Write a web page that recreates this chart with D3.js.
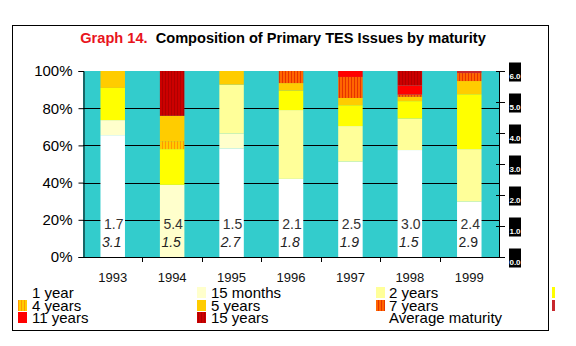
<!DOCTYPE html>
<html>
<head>
<meta charset="utf-8">
<script src="https://cdn.jsdelivr.net/npm/d3@7"></script>
<style>
  html, body { margin: 0; padding: 0; background: #fff; }
  svg { display: block; font-family: Arial, "Liberation Sans", sans-serif; }
</style>
</head>
<body>
<svg id="chart" width="576" height="346"></svg>
<script>
// Composition of primary TES issues by maturity (% of issues per year)
const categories = ['1993', '1994', '1995', '1996', '1997', '1998', '1999'];
const oneYear = [65.5, 0, 58.4, 42.0, 51.3, 57.5, 29.8];
const fifteenMonths = [8.1, 38.8, 8.0, 0, 0, 0, 0];
const twoYears = [0, 0, 26.3, 37.0, 19.1, 17.0, 28.2];
const threeYears = [17.3, 19.2, 0, 10.5, 11.2, 9.3, 29.5];
const fourYears = [0, 4.3, 0, 0, 0, 0, 0];
const fiveYears = [9.1, 13.6, 7.3, 4.0, 3.9, 2.3, 7.1];
const sevenYears = [0, 0, 0, 6.5, 11.3, 1.2, 4.3];
const tenYears = [0, 0, 0, 0, 0, 0, 1.1];
const elevenYears = [0, 0, 0, 0, 3.2, 5.0, 0];
const fifteenYears = [0, 24.1, 0, 0, 0, 7.7, 0];
// average maturity labels (years) and the second label row
const avgMaturity = [1.7, 5.4, 1.5, 2.1, 2.5, 3.0, 2.4];
const secondLabels = [3.1, 1.5, 2.7, 1.8, 1.9, 1.5, 2.9];
const leftTicks = [0, 20, 40, 60, 80, 100];
const rightTicks = [0, 1, 2, 3, 4, 5, 6];

const series = [
  { key: 'oneYear', label: '1 year', values: oneYear, color: '#ffffff' },
  { key: 'fifteenMonths', label: '15 months', values: fifteenMonths, color: '#ffffcc' },
  { key: 'twoYears', label: '2 years', values: twoYears, color: '#ffff99' },
  { key: 'threeYears', label: '3 years', values: threeYears, color: '#ffff00' },
  { key: 'fourYears', label: '4 years', values: fourYears, color: 'url(#stripe4)' },
  { key: 'fiveYears', label: '5 years', values: fiveYears, color: '#ffcc00' },
  { key: 'sevenYears', label: '7 years', values: sevenYears, color: 'url(#stripe7)' },
  { key: 'tenYears', label: '10 years', values: tenYears, color: '#c8282d' },
  { key: 'elevenYears', label: '11 years', values: elevenYears, color: '#ff0000' },
  { key: 'fifteenYears', label: '15 years', values: fifteenYears, color: 'url(#stripe15)' }
];

const svg = d3.select('#chart');
const plot = { left: 83, right: 499, top: 71, bottom: 257 };

// stripe patterns
const defs = svg.append('defs');
function stripe(id, base, line) {
  const p = defs.append('pattern').attr('id', id)
    .attr('patternUnits', 'userSpaceOnUse').attr('width', 3).attr('height', 4);
  p.append('rect').attr('width', 3).attr('height', 4).attr('fill', base);
  p.append('rect').attr('width', 1).attr('height', 4).attr('fill', line);
}
stripe('stripe4', '#ffcc00', '#ff9900');
stripe('stripe7', '#ff6600', '#e63300');
stripe('stripe15', '#cc0000', '#b00000');

// frame
svg.append('rect').attr('x', 12.5).attr('y', 25.5).attr('width', 536).attr('height', 305)
  .attr('fill', 'none').attr('stroke', '#000').attr('stroke-width', 1);

// title
const title = svg.append('text').attr('x', 283).attr('y', 43).attr('text-anchor', 'middle')
  .style('font-size', '14.6px').style('font-weight', 'bold');
title.append('tspan').attr('fill', '#e8141c').text('Graph 14.');
title.append('tspan').attr('fill', '#000').text('\u00a0 Composition of Primary TES Issues by maturity');

const x = d3.scaleBand().domain(categories).range([plot.left, plot.right])
  .paddingInner(0.588).paddingOuter(0.294);
const y = d3.scaleLinear().domain([0, 100]).range([plot.bottom, plot.top]);
const yRight = d3.scaleLinear().domain([0, 6]).range([plot.bottom, plot.top]);

// plot background
svg.append('rect').attr('x', plot.left).attr('y', plot.top)
  .attr('width', plot.right - plot.left).attr('height', plot.bottom - plot.top)
  .attr('fill', '#33cccc');

// gridlines
svg.append('g').selectAll('line').data(leftTicks.filter(t => t > 0 && t < 100)).join('line')
  .attr('x1', plot.left).attr('x2', plot.right)
  .attr('y1', d => Math.round(y(d)) + 0.5).attr('y2', d => Math.round(y(d)) + 0.5)
  .attr('stroke', '#000').attr('stroke-width', 1);

// stacked bars
const table = categories.map((c, i) => {
  const row = { year: c };
  series.forEach(s => { row[s.key] = s.values[i]; });
  return row;
});
const stacked = d3.stack().keys(series.map(s => s.key))(table);
svg.append('g').selectAll('g').data(stacked).join('g')
  .attr('fill', (d, i) => series[i].color)
  .selectAll('rect').data(d => d.filter(v => v[1] - v[0] > 0)).join('rect')
  .attr('x', d => x(d.data.year))
  .attr('width', x.bandwidth())
  .attr('y', d => y(d[1]))
  .attr('height', d => y(d[0]) - y(d[1]));

// left axis
const leftAxis = d3.axisLeft(y).tickValues(leftTicks).tickSize(5).tickPadding(6)
  .tickFormat(d => d + '%');
const gl = svg.append('g').attr('transform', `translate(${plot.left + 0.5},0)`).call(leftAxis);
gl.select('.domain').attr('stroke', '#000');
gl.selectAll('text').style('font-size', '15px').attr('fill', '#000')
  .style('font-family', 'Arial, "Liberation Sans", sans-serif');

// bottom axis
svg.append('line').attr('x1', plot.left).attr('x2', plot.right)
  .attr('y1', plot.bottom + 0.5).attr('y2', plot.bottom + 0.5).attr('stroke', '#000');
const step = x.step();
const gapX = d => Math.round(x(d) + x.bandwidth() + (step - x.bandwidth()) / 2) + 0.5;
svg.append('g').selectAll('line').data(categories.slice(0, -1)).join('line')
  .attr('x1', gapX).attr('x2', gapX)
  .attr('y1', plot.bottom).attr('y2', plot.bottom + 5).attr('stroke', '#000');
svg.append('g').selectAll('text').data(categories).join('text')
  .attr('x', d => x(d) + x.bandwidth() / 2).attr('y', 282)
  .attr('text-anchor', 'middle').style('font-size', '13px').attr('fill', '#111')
  .text(d => d);

// right axis
svg.append('line').attr('x1', plot.right + 0.5).attr('x2', plot.right + 0.5)
  .attr('y1', plot.top).attr('y2', plot.bottom).attr('stroke', '#000');
const gr = svg.append('g').selectAll('g').data(rightTicks).join('g')
  .attr('transform', d => `translate(0,${Math.round(yRight(d)) + 0.5})`);
gr.append('line').attr('x1', plot.right - 3).attr('x2', plot.right + 6).attr('stroke', '#000');
gr.append('rect').attr('x', 509).attr('y', -9).attr('width', 12).attr('height', 19).attr('fill', '#000');
gr.append('text').attr('x', 515).attr('y', 7).attr('text-anchor', 'middle')
  .style('font-size', '8px').style('font-weight', 'bold').attr('fill', '#fff')
  .text(d => d.toFixed(1));

// value labels inside bars
svg.append('g').selectAll('text').data(avgMaturity).join('text')
  .attr('x', (d, i) => x(categories[i]) + x.bandwidth() / 2 + 1)
  .attr('y', y(18) + 5)
  .attr('text-anchor', 'middle').style('font-size', '14px').attr('fill', '#333')
  .text(d => d.toFixed(1));
svg.append('g').selectAll('text').data(secondLabels).join('text')
  .attr('x', (d, i) => x(categories[i]) + x.bandwidth() / 2 - 1)
  .attr('y', y(8) + 5)
  .attr('text-anchor', 'middle').style('font-size', '14px')
  .style('font-style', (d, i) => i === categories.length - 1 ? 'normal' : 'italic')
  .attr('fill', '#222')
  .text(d => d.toFixed(1));

// legend (4 columns; the 4th column runs past the frame and is cut off)
const colX = [18, 197, 376, 552];
const textX = [32, 211, 389, 566];
const rowY = [298, 311, 323];
const legendItems = series.map(s => ({ label: s.label, color: s.color }))
  .concat([{ label: 'Average maturity', color: null }])
  .map((d, i) => Object.assign(d, { col: i % 4, row: Math.floor(i / 4) }));
const lg = svg.append('g');
lg.selectAll('rect').data(legendItems.filter(d => d.color)).join('rect')
  .attr('x', d => colX[d.col]).attr('y', d => rowY[d.row] - 11)
  .attr('width', d => d.col === 3 ? 3 : 9).attr('height', 11)
  .attr('fill', d => d.color);
lg.selectAll('text').data(legendItems.filter(d => d.col < 3)).join('text')
  .attr('x', d => textX[d.col]).attr('y', d => rowY[d.row])
  .style('font-size', '15px').attr('fill', '#000')
  .text(d => d.label);
</script>
</body>
</html>
